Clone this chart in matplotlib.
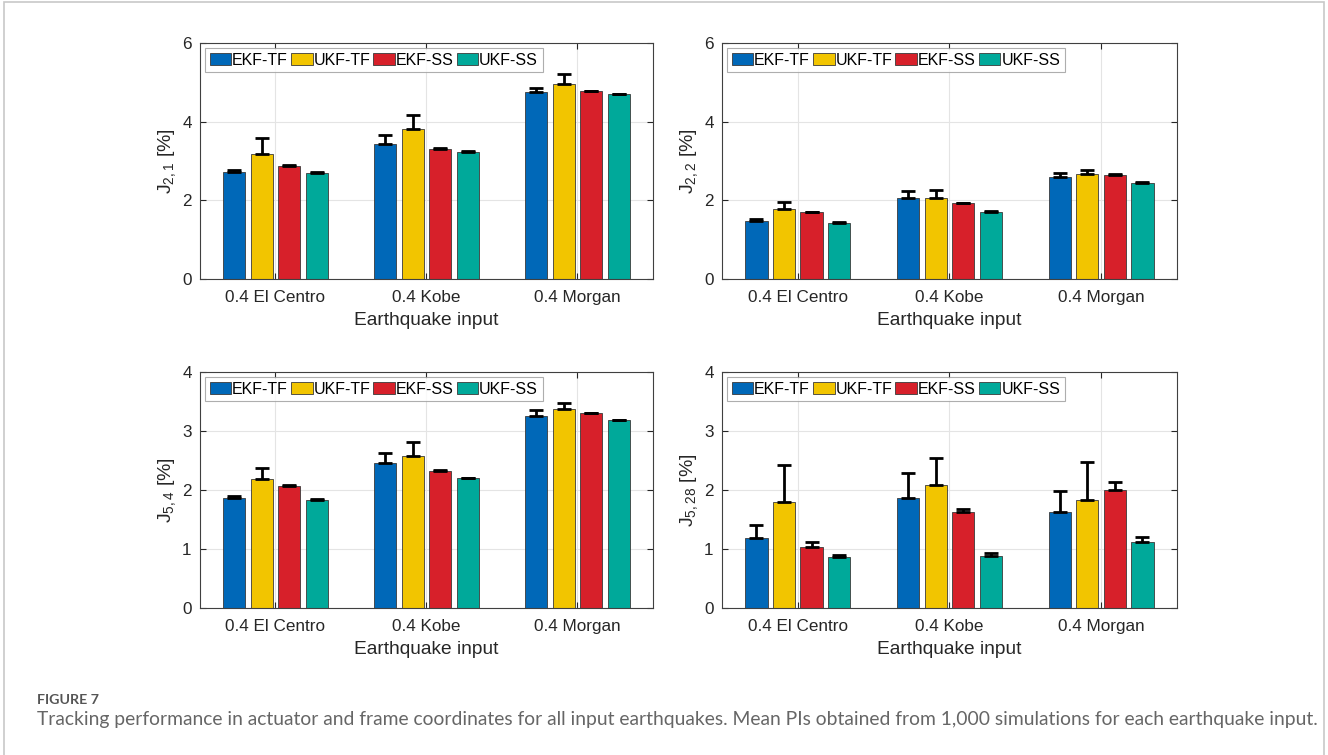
import numpy as np
import matplotlib
matplotlib.use('Agg')
import matplotlib.pyplot as plt
from matplotlib.patches import Rectangle

# earthquake inputs and filters
quakes = ['0.4 El Centro', '0.4 Kobe', '0.4 Morgan']
filters = ['EKF-TF', 'UKF-TF', 'EKF-SS', 'UKF-SS']
colors = ['#0068B8', '#F2C500', '#D7202A', '#00A99A']

# mean PI [%], rows = filters, cols = quakes; err = upper error bar length
j21_mean = [[2.72, 3.44, 4.75],
            [3.17, 3.80, 4.95],
            [2.88, 3.31, 4.77],
            [2.69, 3.24, 4.69]]
j21_err = [[0.05, 0.22, 0.11],
           [0.41, 0.38, 0.25],
           [0.02, 0.02, 0.02],
           [0.02, 0.02, 0.02]]

j22_mean = [[1.48, 2.06, 2.58],
            [1.79, 2.07, 2.66],
            [1.69, 1.92, 2.64],
            [1.43, 1.70, 2.45]]
j22_err = [[0.05, 0.18, 0.11],
           [0.17, 0.19, 0.12],
           [0.02, 0.02, 0.02],
           [0.02, 0.02, 0.02]]

j54_mean = [[1.86, 2.46, 3.26],
            [2.19, 2.57, 3.38],
            [2.07, 2.33, 3.30],
            [1.83, 2.20, 3.18]]
j54_err = [[0.03, 0.17, 0.10],
           [0.18, 0.24, 0.10],
           [0.01, 0.01, 0.01],
           [0.01, 0.01, 0.01]]

j528_mean = [[1.18, 1.86, 1.62],
             [1.80, 2.08, 1.83],
             [1.04, 1.62, 2.00],
             [0.86, 0.88, 1.12]]
j528_err = [[0.22, 0.43, 0.36],
            [0.63, 0.46, 0.65],
            [0.08, 0.06, 0.14],
            [0.03, 0.05, 0.08]]

panels = [
    (r'J$_{2,1}$ [%]', j21_mean, j21_err, 6, [0, 2, 4, 6]),
    (r'J$_{2,2}$ [%]', j22_mean, j22_err, 6, [0, 2, 4, 6]),
    (r'J$_{5,4}$ [%]', j54_mean, j54_err, 4, [0, 1, 2, 3, 4]),
    (r'J$_{5,28}$ [%]', j528_mean, j528_err, 4, [0, 1, 2, 3, 4]),
]

plt.rcParams['font.family'] = ['Liberation Sans', 'DejaVu Sans']
plt.rcParams['mathtext.fontset'] = 'custom'
plt.rcParams['mathtext.rm'] = 'Liberation Sans'
plt.rcParams['mathtext.it'] = 'Liberation Sans'

fig = plt.figure(figsize=(13.28, 7.55), dpi=100)

positions = [
    [0.1506, 0.6305, 0.3411, 0.3126],
    [0.5437, 0.6305, 0.3425, 0.3126],
    [0.1506, 0.1947, 0.3411, 0.3126],
    [0.5437, 0.1947, 0.3425, 0.3126],
]

x = np.arange(1, len(quakes) + 1)
width = 0.147
step = 0.182
axcol = '#404040'

for pos, (ylab, means, errs, ymax, yt) in zip(positions, panels):
    ax = fig.add_axes(pos)
    for i, f in enumerate(filters):
        xi = x + (i - 1.5) * step
        m = np.array(means[i])
        e = np.array(errs[i])
        ax.bar(xi, m, width, color=colors[i], edgecolor='#3a3a3a',
               linewidth=0.6, label=f, zorder=2)
        ax.errorbar(xi, m, yerr=[np.zeros_like(e), e], fmt='none',
                    ecolor='black', elinewidth=2, capsize=5, capthick=2,
                    zorder=3)
    ax.set_xlim(0.5, 3.5)
    ax.set_ylim(0, ymax)
    ax.set_yticks(yt)
    ax.set_xticks(x)
    ax.set_xticklabels(quakes)
    ax.grid(True, color='#e4e4e4', linewidth=0.8, zorder=0)
    ax.set_axisbelow(True)
    ax.tick_params(direction='in', top=True, right=True, length=4,
                   labelsize=12.3, colors='#262626')
    ax.tick_params(axis='x', pad=8)
    ax.tick_params(axis='y', pad=6)
    for s in ax.spines.values():
        s.set_color(axcol)
        s.set_linewidth(0.8)
    ax.set_xlabel('Earthquake input', fontsize=13.8, color='#262626',
                  labelpad=5)
    ax.set_ylabel(ylab, fontsize=14, color='#262626', labelpad=3)
    leg = ax.legend(loc='upper left', ncol=4, fontsize=11.5,
                    frameon=True, fancybox=False, edgecolor='#9a9a9a',
                    handlelength=1.35, handleheight=0.8, handletextpad=0.05,
                    columnspacing=0.2, borderpad=0.3,
                    borderaxespad=0.3)
    leg.get_frame().set_linewidth(0.8)

# page border and caption
fig.patches.append(Rectangle((0.003, -0.01), 0.994, 1.007,
                             transform=fig.transFigure, fill=False,
                             edgecolor='#c8c8c8', linewidth=1.2))
fig.text(37 / 1328, 1 - 700 / 755, 'FIGURE 7', fontsize=10.3,
         fontweight='bold', color='#555555', family='Lato', va='center')
fig.text(37 / 1328, 1 - 720 / 755,
         'Tracking performance in actuator and frame coordinates for all input '
         'earthquakes. Mean PIs obtained from 1,000 simulations for each '
         'earthquake input.',
         fontsize=13.9, color='#666666', family='Lato', va='center')

fig.savefig('out.png', dpi=100)
